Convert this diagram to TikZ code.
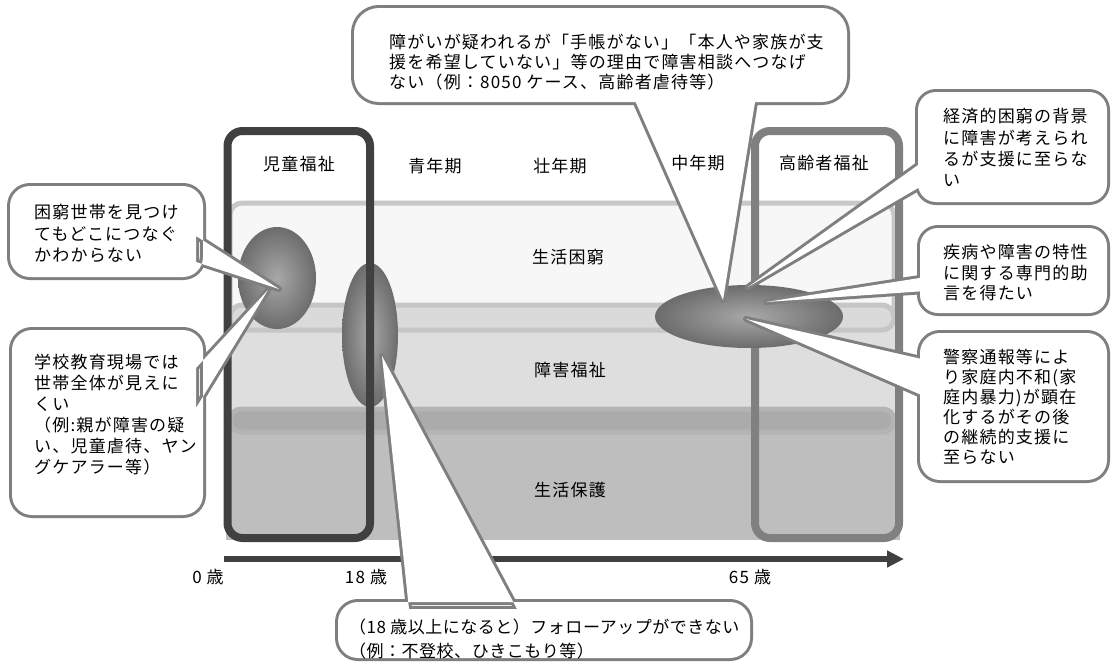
\documentclass[tikz,border=0pt]{standalone}
\usepackage{fontspec}
\newfontfamily\jp[LetterSpace=7]{Noto Sans CJK JP}
\newfontfamily\jpn[LetterSpace=3]{Noto Sans CJK JP}
\usetikzlibrary{arrows.meta}
\definecolor{boxdark}{HTML}{404040}
\definecolor{boxgray}{HTML}{808080}
\definecolor{calloutline}{HTML}{7F7F7F}
\definecolor{bandA}{HTML}{F7F7F7}
\definecolor{bandAline}{HTML}{C8C8C8}
\definecolor{bandB}{HTML}{DEDEDE}
\definecolor{pillB}{HTML}{DADADA}
\definecolor{pillBline}{HTML}{C6C6C6}
\definecolor{bandC}{HTML}{BEBEBE}
\definecolor{pillC}{HTML}{ABABAB}
\definecolor{pillCline}{HTML}{B4B4B4}
\definecolor{elin}{HTML}{A8A8A8}
\definecolor{elout}{HTML}{6C6C6C}
\begin{document}
\begin{tikzpicture}[x=1pt,y=-1pt,
  every node/.style={inner sep=0pt},
  lbl/.style={font=\jp\fontsize{17}{20}\selectfont},
  ctext/.style={font=\jp\fontsize{17}{#1}\selectfont, align=left, anchor=north west},
  cline/.style={draw=calloutline, line width=6pt, line join=round},
  ell/.style={shading=radial, inner color=elin, outer color=elout},
  frame/.style={line width=8pt, rounded corners=15pt}]
\useasboundingbox (0,0) rectangle (1112,664);
\fill[white] (0,0) rectangle (1112,664);
% bands
\draw[bandAline, line width=5pt, fill=bandA, rounded corners=12pt] (230,203) rectangle (894,330);
\fill[bandB] (228,318) rectangle (897,420);
\draw[pillBline, line width=5pt, fill=pillB, rounded corners=12pt] (230,305) rectangle (894,330);
\fill[bandC] (226,420) rectangle (900,540);
\draw[pillCline, line width=5pt, fill=pillC, rounded corners=11pt] (230,409) rectangle (894,432);
% ellipse below frames
\shade[ell] (370,335) ellipse [x radius=28pt, y radius=72pt];
% frames
\draw[boxdark, frame] (227.5,131) rectangle (370,538);
\draw[boxgray, frame] (755,131) rectangle (899,538);
% ellipses above
\shade[ell] (277,278) ellipse [x radius=39pt, y radius=51pt];
\shade[ell] (749,316.5) ellipse [x radius=94pt, y radius=31.5pt];
% axis
\coordinate (ax0) at (224,559);
\coordinate (ax1) at (904,559);
\draw[boxdark, line width=6pt, -{Triangle[length=17pt,width=16pt]}] (ax0) -- (ax1);
% callout A
\draw[cline] [rounded corners=20pt] (10,186) rectangle (203,277) [sharp corners] (196,236) -- (279,289) -- (196,262) -- cycle;
\fill[white] [rounded corners=20pt] (10,186) rectangle (203,277) [sharp corners] (196,236) -- (279,289) -- (196,262) -- cycle;
% callout B
\draw[cline] [rounded corners=20pt] (12,330) rectangle (203,515) [sharp corners] (196,368) -- (268,290) -- (196,408) -- cycle;
\fill[white] [rounded corners=20pt] (12,330) rectangle (203,515) [sharp corners] (196,368) -- (268,290) -- (196,408) -- cycle;
% callout C
\draw[cline] [rounded corners=25pt] (354,8) rectangle (847,102) [sharp corners] (633,96) -- (723,300) -- (756,96) -- cycle;
\fill[white] [rounded corners=25pt] (354,8) rectangle (847,102) [sharp corners] (633,96) -- (723,300) -- (756,96) -- cycle;
% callout D
\draw[cline] [rounded corners=18pt] (918,92) rectangle (1107,202) [sharp corners] (925,160) -- (748,287) -- (925,184) -- cycle;
\fill[white] [rounded corners=18pt] (918,92) rectangle (1107,202) [sharp corners] (925,160) -- (748,287) -- (925,184) -- cycle;
% callout E
\draw[cline] [rounded corners=18pt] (920,228) rectangle (1107,313) [sharp corners] (926,277) -- (766,302) -- (926,291) -- cycle;
\fill[white] [rounded corners=18pt] (920,228) rectangle (1107,313) [sharp corners] (926,277) -- (766,302) -- (926,291) -- cycle;
% callout F
\draw[cline] [rounded corners=20pt] (920,333) rectangle (1107,480) [sharp corners] (926,360) -- (746,319) -- (926,397) -- cycle;
\fill[white] [rounded corners=20pt] (920,333) rectangle (1107,480) [sharp corners] (926,360) -- (746,319) -- (926,397) -- cycle;
% callout G
\draw[cline] [rounded corners=20pt] (338,602) rectangle (750,658) [sharp corners] (409,609) -- (382,356) -- (517,609) -- cycle;
\fill[white] [rounded corners=20pt] (338,602) rectangle (750,658) [sharp corners] (409,609) -- (382,356) -- (517,609) -- cycle;
% labels
\node[lbl] (b1) at (568,257) {生活困窮};
\node[lbl] (b2) at (570,370) {障害福祉};
\node[lbl] (b3) at (570,490) {生活保護};
\node[lbl] (t1) at (299,164) {児童福祉};
\node[lbl] (t2) at (435,166) {青年期};
\node[lbl] (t3) at (560,166) {壮年期};
\node[lbl] (t4) at (698,163) {中年期};
\node[lbl] (t5) at (824,163) {高齢者福祉};
\node[lbl] (a0) at (208,577) {0 歳};
\node[lbl] (a18) at (366,577) {18 歳};
\node[lbl] (a65) at (750,577) {65 歳};
% callout texts
\node[ctext=21.5] (ca) at (34,202.5) {\rule{0pt}{16pt}困窮世帯を見つけ\\てもどこにつなぐ\\かわからない};
\node[ctext=21] (cb) at (34,352.5) {\rule{0pt}{16pt}学校教育現場では\\世帯全体が見えに\\くい\\（例:親が障害の疑\\い、児童虐待、ヤン\\グケアラー等）};
\node[ctext=20] (cc) at (389,32.5) {\rule{0pt}{16pt}障がいが疑われるが「手帳がない」「本人や家族が支\\援を希望していない」等の理由で障害相談へつなげ\\ない（例：8050 ケース、高齢者虐待等）};
\node[ctext=21.3] (cd) at (943,106.5) {\rule{0pt}{16pt}経済的困窮の背景\\に障害が考えられ\\るが支援に至らな\\い};
\node[ctext=20.5] (ce) at (943,242.5) {\rule{0pt}{16pt}疾病や障害の特性\\に関する専門的助\\言を得たい};
\node[ctext=20] (cf) at (943,347.5) {\rule{0pt}{16pt}警察通報等によ\\り家庭内不和(家\\庭内暴力)が顕在\\化するがその後\\の継続的支援に\\至らない};
\node[ctext=24, font=\jpn\fontsize{17}{24}\selectfont] (cg) at (349,617.5) {\rule{0pt}{16pt}（18 歳以上になると）フォローアップができない\\（例：不登校、ひきこもり等）};
\end{tikzpicture}
\end{document}
